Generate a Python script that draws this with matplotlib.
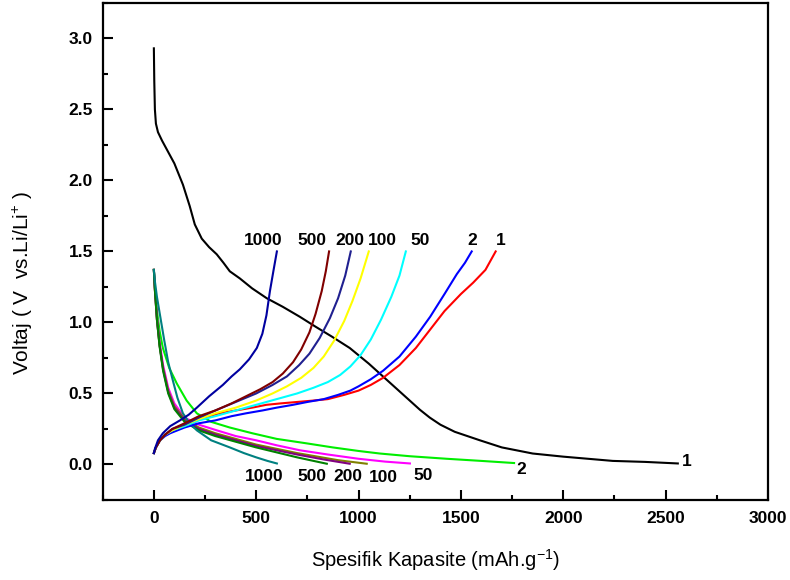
import matplotlib
matplotlib.use("Agg")
import matplotlib.pyplot as plt
from matplotlib.ticker import MultipleLocator, FormatStrFormatter

plt.rcParams['font.family'] = ['Liberation Sans', 'DejaVu Sans']
plt.rcParams['mathtext.fontset'] = 'custom'
plt.rcParams['mathtext.rm'] = 'Liberation Sans'

# discharge curves (capacity mAh/g, voltage V)
dis_1_x = [0, 2, 5, 10, 20, 40, 70, 100, 142, 175, 200, 234, 270, 307, 340, 371, 420, 480, 552, 630, 713, 790, 870, 957, 1050, 1150, 1250, 1300, 1348, 1400, 1470, 1593, 1700, 1851, 2000, 2242, 2400, 2560]
dis_1_y = [2.93, 2.7, 2.5, 2.4, 2.34, 2.28, 2.2, 2.12, 1.97, 1.82, 1.69, 1.59, 1.53, 1.48, 1.42, 1.36, 1.31, 1.24, 1.17, 1.11, 1.04, 0.97, 0.90, 0.82, 0.71, 0.58, 0.45, 0.385, 0.33, 0.28, 0.23, 0.17, 0.12, 0.077, 0.055, 0.025, 0.018, 0.007]
dis_2_x = [0, 5, 15, 28, 44, 75, 112, 160, 210, 280, 371, 480, 600, 740, 874, 1000, 1104, 1250, 1431, 1600, 1760]
dis_2_y = [1.37, 1.25, 1.08, 0.94, 0.82, 0.68, 0.57, 0.45, 0.36, 0.30, 0.26, 0.22, 0.18, 0.15, 0.12, 0.095, 0.077, 0.058, 0.04, 0.025, 0.01]
dis_50_x = [0, 5, 15, 28, 45, 70, 100, 150, 220, 308, 400, 500, 600, 713, 850, 1000, 1130, 1251]
dis_50_y = [1.37, 1.24, 1.04, 0.86, 0.70, 0.54, 0.43, 0.33, 0.28, 0.24, 0.20, 0.17, 0.135, 0.10, 0.07, 0.04, 0.02, 0.007]
dis_100_x = [0, 5, 15, 28, 45, 70, 100, 150, 220, 300, 400, 500, 600, 700, 800, 900, 1040]
dis_100_y = [1.37, 1.23, 1.02, 0.84, 0.68, 0.52, 0.41, 0.32, 0.26, 0.22, 0.18, 0.14, 0.11, 0.08, 0.055, 0.03, 0.005]
dis_200_x = [0, 5, 15, 28, 45, 70, 100, 150, 220, 300, 400, 500, 600, 700, 830, 957]
dis_200_y = [1.37, 1.23, 1.02, 0.84, 0.67, 0.51, 0.40, 0.31, 0.25, 0.21, 0.17, 0.13, 0.10, 0.07, 0.035, 0.005]
dis_500_x = [0, 5, 15, 28, 45, 70, 100, 150, 220, 300, 400, 500, 600, 700, 780, 845]
dis_500_y = [1.37, 1.23, 1.02, 0.83, 0.66, 0.50, 0.39, 0.30, 0.24, 0.20, 0.16, 0.12, 0.085, 0.05, 0.025, 0.005]
dis_1000_x = [0, 5, 15, 29, 50, 70, 93, 115, 142, 175, 210, 280, 371, 440, 500, 555, 601]
dis_1000_y = [1.37, 1.29, 1.18, 1.06, 0.88, 0.72, 0.59, 0.47, 0.36, 0.29, 0.24, 0.17, 0.12, 0.08, 0.05, 0.025, 0.007]

# charge curves
chg_1_x = [0, 10, 30, 55, 80, 115, 150, 200, 250, 320, 400, 480, 550, 620, 700, 780, 850, 930, 1000, 1060, 1120, 1200, 1280, 1350, 1420, 1500, 1560, 1620, 1670]
chg_1_y = [0.08, 0.12, 0.17, 0.21, 0.23, 0.26, 0.28, 0.31, 0.33, 0.36, 0.38, 0.40, 0.42, 0.43, 0.44, 0.45, 0.46, 0.49, 0.52, 0.56, 0.61, 0.70, 0.82, 0.95, 1.08, 1.20, 1.28, 1.37, 1.5]
chg_2_x = [0, 10, 30, 55, 80, 115, 150, 220, 300, 380, 450, 530, 600, 680, 750, 830, 900, 960, 1000, 1060, 1120, 1200, 1280, 1350, 1420, 1480, 1520, 1553]
chg_2_y = [0.08, 0.12, 0.17, 0.20, 0.22, 0.24, 0.26, 0.29, 0.31, 0.34, 0.36, 0.38, 0.40, 0.42, 0.44, 0.46, 0.49, 0.52, 0.55, 0.60, 0.66, 0.76, 0.90, 1.04, 1.20, 1.34, 1.42, 1.5]
chg_50_x = [0, 10, 30, 55, 90, 150, 220, 300, 400, 500, 600, 700, 780, 850, 910, 960, 1010, 1060, 1110, 1160, 1200, 1231]
chg_50_y = [0.08, 0.12, 0.17, 0.21, 0.24, 0.27, 0.31, 0.34, 0.38, 0.42, 0.46, 0.50, 0.54, 0.58, 0.63, 0.69, 0.77, 0.88, 1.02, 1.18, 1.33, 1.5]
chg_100_x = [0, 10, 30, 55, 90, 150, 220, 300, 400, 500, 580, 650, 720, 780, 830, 880, 930, 970, 1010, 1050]
chg_100_y = [0.08, 0.12, 0.17, 0.21, 0.24, 0.28, 0.32, 0.36, 0.40, 0.45, 0.50, 0.55, 0.61, 0.68, 0.76, 0.87, 1.01, 1.15, 1.31, 1.5]
chg_200_x = [0, 10, 30, 55, 90, 150, 220, 300, 400, 500, 580, 650, 710, 760, 810, 860, 900, 935, 962]
chg_200_y = [0.08, 0.12, 0.17, 0.21, 0.25, 0.28, 0.33, 0.38, 0.44, 0.50, 0.56, 0.62, 0.70, 0.78, 0.89, 1.03, 1.17, 1.33, 1.5]
chg_500_x = [0, 10, 30, 55, 90, 150, 220, 300, 380, 450, 520, 580, 630, 680, 720, 760, 790, 820, 840, 856]
chg_500_y = [0.08, 0.12, 0.17, 0.21, 0.25, 0.29, 0.34, 0.38, 0.43, 0.48, 0.53, 0.58, 0.64, 0.72, 0.81, 0.93, 1.06, 1.22, 1.36, 1.5]
chg_1000_x = [0, 5, 20, 44, 80, 127, 170, 210, 270, 337, 380, 420, 465, 503, 530, 550, 567, 585, 601]
chg_1000_y = [0.08, 0.11, 0.17, 0.22, 0.27, 0.31, 0.35, 0.40, 0.48, 0.56, 0.62, 0.67, 0.74, 0.82, 0.92, 1.05, 1.22, 1.37, 1.5]

top_labels = ['1000', '500', '200', '100', '50', '2', '1']
top_label_x = [533, 772, 957, 1118, 1299, 1558, 1695]
bottom_labels = ['1000', '500', '200', '100', '50', '2', '1']
bottom_label_x = [537, 772, 948, 1119, 1314, 1795, 2605]
bottom_label_y = [-0.085, -0.085, -0.088, -0.092, -0.08, -0.035, 0.02]

fig = plt.figure(figsize=(7.9, 5.8), dpi=100)
ax = fig.add_axes([0.130, 0.138, 0.842, 0.857])

lw = 1.5
ax.plot(dis_1_x, dis_1_y, color='black', lw=lw)
ax.plot(dis_2_x, dis_2_y, color='#00ee00', lw=lw)
ax.plot(dis_50_x, dis_50_y, color='#ff00ff', lw=lw)
ax.plot(dis_100_x, dis_100_y, color='#808000', lw=lw)
ax.plot(dis_200_x, dis_200_y, color='#800080', lw=lw)
ax.plot(dis_500_x, dis_500_y, color='#008000', lw=lw)
ax.plot(dis_1000_x, dis_1000_y, color='#008080', lw=lw)

ax.plot(chg_1_x, chg_1_y, color='#ff0000', lw=lw)
ax.plot(chg_2_x, chg_2_y, color='#0000ff', lw=lw)
ax.plot(chg_50_x, chg_50_y, color='#00ffff', lw=lw)
ax.plot(chg_100_x, chg_100_y, color='#ffff00', lw=lw)
ax.plot(chg_200_x, chg_200_y, color='#202090', lw=lw)
ax.plot(chg_500_x, chg_500_y, color='#800000', lw=lw)
ax.plot(chg_1000_x, chg_1000_y, color='#0000a0', lw=lw)

for t, x in zip(top_labels, top_label_x):
    ax.text(x, 1.575, t, ha='center', va='center', fontsize=12.5, fontweight='bold')
for t, x, y in zip(bottom_labels, bottom_label_x, bottom_label_y):
    ax.text(x, y, t, ha='center', va='center', fontsize=12.5, fontweight='bold')

ax.set_xlim(-250, 3000)
ax.set_ylim(-0.25, 3.25)
ax.xaxis.set_major_locator(MultipleLocator(500))
ax.xaxis.set_minor_locator(MultipleLocator(250))
ax.yaxis.set_major_locator(MultipleLocator(0.5))
ax.yaxis.set_minor_locator(MultipleLocator(0.25))
ax.yaxis.set_major_formatter(FormatStrFormatter('%.1f'))
ax.tick_params(which='both', direction='in', width=1.5, top=False, right=False)
ax.tick_params(which='major', length=7, labelsize=12.5)
ax.tick_params(axis='x', which='major', pad=8)
ax.tick_params(axis='y', which='major', pad=7)
ax.tick_params(which='minor', length=3.5)
for lab in ax.get_xticklabels() + ax.get_yticklabels():
    lab.set_fontweight('bold')
for s in ax.spines.values():
    s.set_linewidth(1.6)

fig.text(436 / 790, 1 - 560 / 580, 'Spesifik Kapasite (mAh.g$^{-1}$)',
         ha='center', va='center', fontsize=14.5)
fig.text(23 / 790, 1 - 283 / 580, 'Voltaj ( V  vs.Li/Li$^{+}$ )',
         ha='center', va='center', rotation=90, fontsize=15)

fig.savefig('out.png', dpi=100)
